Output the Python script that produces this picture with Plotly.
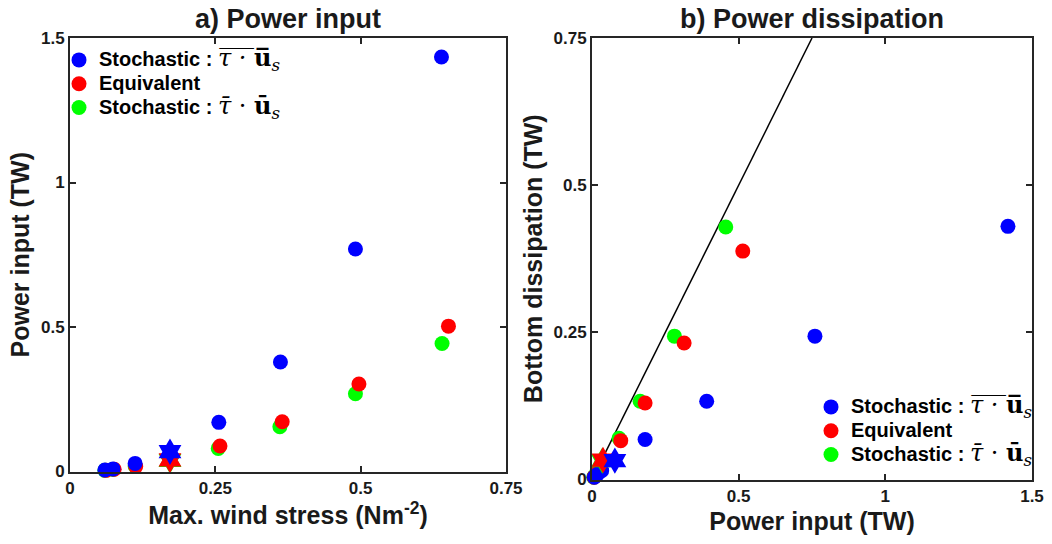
import plotly.graph_objects as go

# ---------------- data ----------------
# Panel a: max wind stress (N m^-2) vs power input (TW)
wind_stoch = [0.060, 0.074, 0.112, 0.256, 0.362, 0.491, 0.639]
pin_stoch = [0.005, 0.009, 0.028, 0.170, 0.379, 0.770, 1.434]
wind_equiv = [0.062, 0.076, 0.113, 0.258, 0.365, 0.497, 0.651]
pin_equiv = [0.004, 0.008, 0.017, 0.088, 0.172, 0.303, 0.503]
wind_bar = [0.060, 0.074, 0.112, 0.255, 0.361, 0.491, 0.640]
pin_bar = [0.004, 0.007, 0.019, 0.080, 0.155, 0.269, 0.443]
# special experiment (hexagram markers)
wind_star = [0.172]
pin_star_stoch = [0.0685]
pin_star_equiv = [0.040]
pin_star_bar = [0.038]

# Panel b: power input (TW) vs bottom dissipation (TW)
pb_x_stoch = [0.008, 0.017, 0.033, 0.181, 0.391, 0.760, 1.418]
diss_stoch = [0.004, 0.008, 0.015, 0.068, 0.133, 0.2435, 0.430]
pb_x_equiv = [0.007, 0.014, 0.020, 0.098, 0.181, 0.314, 0.514]
diss_equiv = [0.004, 0.008, 0.012, 0.066, 0.130, 0.232, 0.388]
pb_x_bar = [0.006, 0.012, 0.018, 0.092, 0.164, 0.281, 0.456]
diss_bar = [0.004, 0.008, 0.013, 0.070, 0.133, 0.2435, 0.429]
pb_star_x_stoch = [0.078]
pb_star_y_stoch = [0.032]
pb_star_x_equiv = [0.0375]
pb_star_y_equiv = [0.033]
pb_star_x_bar = [0.035]
pb_star_y_bar = [0.032]
ref_line = [0, 0.75]  # y = x reference line

ticks_a_x = [0, 0.25, 0.5, 0.75]
ticks_a_y = [0, 0.5, 1, 1.5]
ticks_b_x = [0, 0.5, 1, 1.5]
ticks_b_y = [0, 0.25, 0.5, 0.75]

# ---------------- styling ----------------
BLUE, RED, GREEN = "#0000FF", "#FF0000", "#00FF00"
FONT = "Liberation Sans, Arial, Helvetica, sans-serif"
MATH = "DejaVu Serif, Liberation Serif, serif"

OV = "\u0305"   # combining overline
MAC = "\u0304"  # combining macron
TXT = "<span style=\"font-size:20px\">%s</span>"
MSPAN = ("<span style=\"font-family:%s;font-weight:normal;font-size:24px\">%%s</span>" % MATH)

name_stoch = (TXT % "Stochastic : ") + (MSPAN % (
    "<i>τ" + OV + " " + OV + "·" + OV + " " + OV + "</i><b>u" + OV + "</b><sub><i>s</i></sub>"))
name_equiv = TXT % "Equivalent"
name_bar = (TXT % "Stochastic : ") + (MSPAN % (
    "<i>τ" + MAC + "</i> · <b>u" + MAC + "</b><sub><i>s</i></sub>"))

fig = go.Figure()

def circles(x, y, color, name, xa, ya, legend, rank):
    fig.add_trace(go.Scatter(
        x=x, y=y, mode="markers", name=name, xaxis=xa, yaxis=ya,
        legend=legend, legendrank=rank, cliponaxis=False,
        marker=dict(symbol="circle", size=15, color=color, line=dict(width=0))))

def stars(x, y, color, xa, ya):
    fig.add_trace(go.Scatter(
        x=x, y=y, mode="markers", showlegend=False, xaxis=xa, yaxis=ya,
        cliponaxis=False,
        marker=dict(symbol="hexagram", size=20, color=color, line=dict(width=0))))

# Panel a (draw order: green, red, blue)
circles(wind_bar, pin_bar, GREEN, name_bar, "x", "y", "legend", 3)
circles(wind_equiv, pin_equiv, RED, name_equiv, "x", "y", "legend", 2)
circles(wind_stoch, pin_stoch, BLUE, name_stoch, "x", "y", "legend", 1)
stars(wind_star, pin_star_bar, GREEN, "x", "y")
stars(wind_star, pin_star_equiv, RED, "x", "y")
stars(wind_star, pin_star_stoch, BLUE, "x", "y")

# Panel b
fig.add_trace(go.Scatter(x=ref_line, y=ref_line, mode="lines", showlegend=False,
                         xaxis="x2", yaxis="y2", line=dict(color="black", width=1.5)))
circles(pb_x_bar, diss_bar, GREEN, name_bar, "x2", "y2", "legend2", 3)
circles(pb_x_equiv, diss_equiv, RED, name_equiv, "x2", "y2", "legend2", 2)
circles(pb_x_stoch, diss_stoch, BLUE, name_stoch, "x2", "y2", "legend2", 1)
stars(pb_star_x_bar, pb_star_y_bar, GREEN, "x2", "y2")
stars(pb_star_x_equiv, pb_star_y_equiv, RED, "x2", "y2")
stars(pb_star_x_stoch, pb_star_y_stoch, BLUE, "x2", "y2")

W, H = 1052, 544
axis_common = dict(showgrid=False, zeroline=False, showline=True, mirror="ticks",
                   linecolor="#262626", linewidth=2, ticks="inside", ticklen=6,
                   tickwidth=2, tickcolor="#262626",
                   tickfont=dict(family=FONT, size=17, color="#1a1a1a", weight="bold"),
                   automargin=False)

def title_font(sz=25):
    return dict(family=FONT, size=sz, color="#1a1a1a", weight="bold")

legend_common = dict(bgcolor="rgba(0,0,0,0)", borderwidth=0, tracegroupgap=0,
                     font=dict(family=FONT, size=16, color="black", weight="bold"),
                     itemsizing="trace")

fig.update_layout(
    width=W, height=H, margin=dict(l=0, r=0, t=0, b=0),
    paper_bgcolor="white", plot_bgcolor="white",
    xaxis=dict(axis_common, domain=[70 / W, 506 / W], range=[0, 0.75],
               tickvals=ticks_a_x, ticktext=["0", "0.25", "0.5", "0.75"],
               title=dict(text="Max. wind stress (Nm<sup>-2</sup>)", font=title_font(), standoff=10),
               anchor="y"),
    yaxis=dict(axis_common, domain=[1 - 471.5 / H, 1 - 38 / H], range=[0, 1.5],
               tickvals=ticks_a_y, ticktext=["0", "0.5", "1", "1.5"],
               title=dict(text="Power input (TW)", font=title_font(), standoff=4),
               anchor="x"),
    xaxis2=dict(axis_common, domain=[592 / W, 1032 / W], range=[0, 1.5],
                tickvals=ticks_b_x, ticktext=["0", "0.5", "1", "1.5"],
                title=dict(text="Power input (TW)", font=title_font(), standoff=8),
                anchor="y2"),
    yaxis2=dict(axis_common, domain=[1 - 479.5 / H, 1 - 38 / H], range=[0, 0.75],
                tickvals=ticks_b_y, ticktext=["0", "0.25", "0.5", "0.75"],
                title=dict(text="Bottom dissipation (TW)", font=title_font(), standoff=4),
                anchor="x2"),
    legend=dict(legend_common, x=59 / W, y=1 - 43 / H, xanchor="left", yanchor="top"),
    legend2=dict(legend_common, x=1038 / W, y=1 - 390 / H, xanchor="right", yanchor="top"),
    annotations=[
        dict(text="a) Power input", x=288 / W, y=1 - 19 / H, xref="paper", yref="paper",
             xanchor="center", yanchor="middle", showarrow=False, font=title_font(27)),
        dict(text="b) Power dissipation", x=812 / W, y=1 - 19 / H, xref="paper", yref="paper",
             xanchor="center", yanchor="middle", showarrow=False, font=title_font(27)),
    ],
)

fig.write_html("out.html")
